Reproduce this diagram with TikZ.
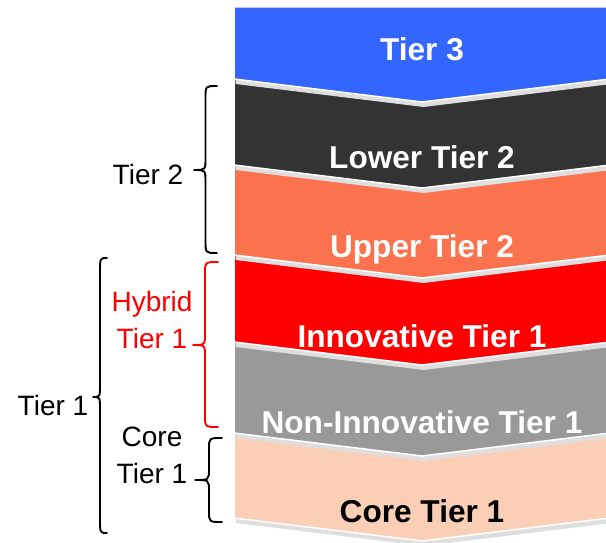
\documentclass[tikz,border=0pt]{standalone}
\usepackage{fontspec}
\setmainfont{Liberation Sans}

\definecolor{tierblue}{RGB}{51,102,255}
\definecolor{tierdark}{RGB}{51,51,51}
\definecolor{tierorange}{RGB}{250,115,78}
\definecolor{tierred}{RGB}{255,0,0}
\definecolor{tiergray}{RGB}{153,153,153}
\definecolor{tierpeach}{RGB}{251,207,182}
\definecolor{bandshadow}{RGB}{222,222,222}

% chevron band: #1 colour, #2 top (side) y, #3 bottom (side) y
% left edge 234, right edge 610, point at x=422, point depth 23
\newcommand\tierband[3]{%
  \fill[bandshadow,shift={(1.5,5)}]
    (234,#2) -- (422,#2+23) -- (610,#2) -- (610,#3) -- (422,#3+23) -- (234,#3) -- cycle;
  \filldraw[fill=#1,draw=white,line width=1.5pt]
    (234,#2) -- (422,#2+23) -- (610,#2) -- (610,#3) -- (422,#3+23) -- (234,#3) -- cycle;
}

\tikzset{
  bandlabel/.style={text=white,font=\fontsize{31.6}{37}\selectfont\bfseries,anchor=base,inner sep=0pt},
  sidelabel/.style={text=black,font=\fontsize{28}{37}\selectfont,anchor=base,align=center,inner sep=0pt},
  bracepen/.style={draw=black,line width=1.9pt,line cap=round,line join=round},
}

\begin{document}
\begin{tikzpicture}[x=1pt,y=-1pt]
  \useasboundingbox (0,0) rectangle (606,543);

  % bands, drawn from the bottom up so each shadow falls on the band below
  \tierband{tierpeach}{433}{518}
  \tierband{tiergray}{342}{433}
  \tierband{tierred}{255}{342}
  \tierband{tierorange}{165}{255}
  \tierband{tierdark}{79}{165}
  \fill[bandshadow,shift={(1.5,5)}]
    (234,7) -- (610,7) -- (610,79) -- (422,102) -- (234,79) -- cycle;
  \filldraw[fill=tierblue,draw=white,line width=1.5pt]
    (234,7) -- (610,7) -- (610,79) -- (422,102) -- (234,79) -- cycle;

  % band titles
  \node[bandlabel] (t3)   at (422,61)  {Tier 3};
  \node[bandlabel] (lt2)  at (422,168) {Lower Tier 2};
  \node[bandlabel] (ut2)  at (422,257) {Upper Tier 2};
  \node[bandlabel] (it1)  at (422,347) {Innovative Tier 1};
  \node[bandlabel] (nit1) at (422,433) {Non-Innovative Tier 1};
  \node[bandlabel,text=black] (ct1) at (422,522) {Core Tier 1};

  % group labels
  \node[sidelabel] (g2)  at (148,185) {Tier 2};
  \node[sidelabel] (g1)  at (53,415)  {Tier 1};
  \node[sidelabel,text=tierred] (gh) at (152,348) {Hybrid\\Tier 1};
  \node[sidelabel] (gc)  at (152,483) {Core\\Tier 1};

  % braces
  \draw[bracepen] (217,86) .. controls (205.5,86) .. (205.5,98) -- (205.5,158)
    .. controls (205.5,170) .. (194,170) .. controls (205.5,170) .. (205.5,182)
    -- (205.5,241) .. controls (205.5,253) .. (217,253);
  \draw[bracepen] (107,258) .. controls (100,258) .. (100,272) -- (100,385)
    .. controls (100,397) .. (93,397) .. controls (100,397) .. (100,409)
    -- (100,519) .. controls (100,533) .. (107,533);
  \draw[bracepen,draw=tierred] (218,262) .. controls (205,262) .. (205,274) -- (205,333)
    .. controls (205,345) .. (193,345) .. controls (205,345) .. (205,357)
    -- (205,415) .. controls (205,427) .. (218,427);
  \draw[bracepen] (222,438) .. controls (209,438) .. (209,449) -- (209,469)
    .. controls (209,480) .. (195,480) .. controls (209,480) .. (209,491)
    -- (209,511) .. controls (209,522) .. (222,522);
\end{tikzpicture}
\end{document}
